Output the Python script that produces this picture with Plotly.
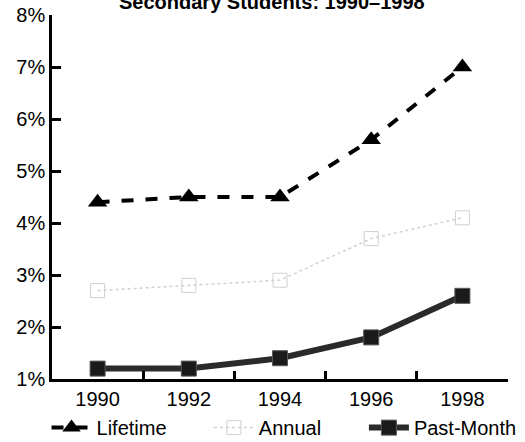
import plotly.graph_objects as go

years = ["1990", "1992", "1994", "1996", "1998"]
lifetime = [4.4, 4.5, 4.5, 5.6, 7.0]
annual = [2.7, 2.8, 2.9, 3.7, 4.1]
past_month = [1.2, 1.2, 1.4, 1.8, 2.6]
y_ticks = [1, 2, 3, 4, 5, 6, 7, 8]
y_tick_labels = [f"{v}%" for v in y_ticks]
title_text = "Secondary Students: 1990–1998"

FONT = "Liberation Sans, Arial, Helvetica, sans-serif"

fig = go.Figure()
fig.add_trace(go.Scatter(
    x=years, y=lifetime, name="Lifetime", mode="lines+markers", legend="legend",
    line=dict(color="black", width=4, dash="dash"),
    marker=dict(symbol="triangle-up", size=17, color="black"),
))
fig.add_trace(go.Scatter(
    x=years, y=annual, name="Annual", mode="lines+markers", legend="legend2",
    line=dict(color="#d0d0d0", width=1.5, dash="dot"),
    marker=dict(symbol="square-open", size=14, color="#d0d0d0", line=dict(width=1)),
))
fig.add_trace(go.Scatter(
    x=years, y=past_month, name="Past-Month", mode="lines+markers", legend="legend3",
    line=dict(color="#2a2a2a", width=6),
    marker=dict(symbol="square", size=15, color="#1a1a1a",
                line=dict(color="#555555", width=1)),
))

leg_common = dict(orientation="h", xanchor="left", y=-0.08, yanchor="top",
                  font=dict(size=20), itemwidth=40, bgcolor="rgba(0,0,0,0)")

fig.update_layout(
    width=525, height=442,
    margin=dict(l=52, r=17, t=15, b=63, autoexpand=False),
    paper_bgcolor="white", plot_bgcolor="white",
    font=dict(family=FONT, size=20, color="black"),
    showlegend=True,
    legend=dict(x=-0.012, **leg_common),
    legend2=dict(x=0.344, **leg_common),
    legend3=dict(x=0.684, **leg_common),
    annotations=[dict(
        text=f"<b>{title_text}</b>", xref="paper", yref="paper",
        x=0.482, y=1.036, xanchor="center", yanchor="middle",
        showarrow=False, font=dict(size=20, family=FONT),
    )],
)
fig.update_xaxes(
    type="category", range=[-0.5, 4.5],
    showline=True, linecolor="black", linewidth=2.5,
    ticks="inside", tickson="boundaries", ticklen=8, tickwidth=2.5, tickcolor="black",
    showgrid=False, zeroline=False, tickfont=dict(size=20),
)
fig.update_yaxes(
    range=[1, 8], tickvals=y_ticks, ticktext=y_tick_labels,
    showline=True, linecolor="black", linewidth=2.5,
    ticks="inside", ticklen=9, tickwidth=2.5, tickcolor="black",
    showgrid=False, zeroline=False, tickfont=dict(size=20),
)

fig.write_html(
    "out.html",
    config={"displayModeBar": False},
    post_script="document.body.style.margin='0';document.body.style.overflow='hidden';",
)
